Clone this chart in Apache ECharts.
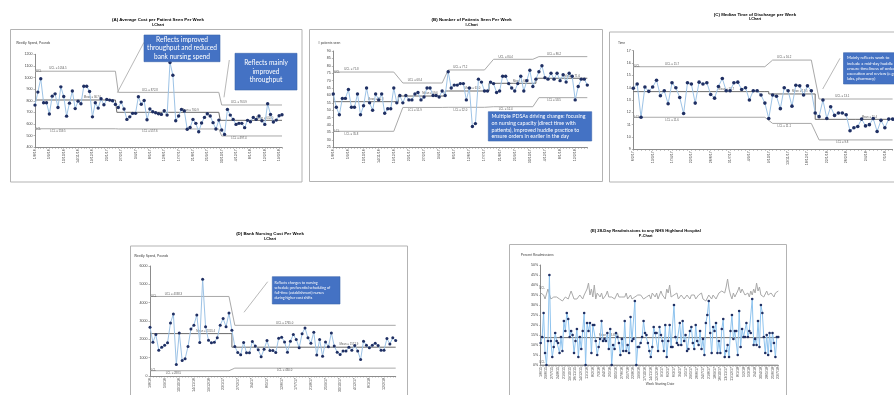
<!DOCTYPE html>
<html>
<head>
<meta charset="utf-8">
<script src="https://cdn.jsdelivr.net/npm/echarts/dist/echarts.min.js"></script>
<style>
  html, body { margin: 0; padding: 0; background: #fff; overflow: hidden; }
  #c { width: 894px; height: 395px; }
</style>
</head>
<body>
<div id="c"></div>
<script>
// ---------- (A) Average cost per patient seen per week (pounds) ----------
const costA = [763,875,990,783,783,686,840,860,743,920, 837,668,780,884,733,797,775,925,925,880,
  662,783,737,817,766,812,806,800,769,743, 789,729,640,662,692,692,835,770,803,637,
  729,706,697,689,683,715,677,1130,1020,629, 669,726,712,555,570,640,606,534,609,657,
  689,669,612,557,634,549,511,726,677,640, 597,606,606,569,632,620,657,640,669,629,
  597,775,683,617,634,672,680];
const phaseStartA = [0, 29, 65];
const phaseEndA   = [28, 64, 86];
const uclA  = [1054.5, 872.8, 763.9];
const meanA = [807.0, 700.9, 632.0];
const lclA  = [559.5, 557.6, 497.4];
const tickLabelsA = ['1/8/16','5/9/16','10/10/16','14/11/16','19/12/16','23/1/17','27/2/17','3/4/17','8/5/17',
  '12/6/17','17/7/17','21/8/17','25/9/17','30/10/17','4/12/17','8/1/18','12/2/18','19/3/18'];

// ---------- (B) Number of patients seen per week ----------
const patientsB = [61,52,47,58,58,64,52,52,61,47, 53,65,55,50,61,57,61,48,51,51,
  65,55,60,55,60,57,57,61,62,57, 59,65,65,60,60,59,63,60,76,65,
  67,67,68,68,57,65,39,41,71,69, 63,63,69,68,62,63,73,73,68,65,
  63,68,73,63,70,77,66,71,76,80, 72,71,75,71,75,70,74,69,75,73,
  57,66,71,71,67];
const phaseStartB = [0, 23, 38, 53, 68];
const phaseEndB   = [20, 36, 50, 66, 84];
const uclB  = [75.8, 68.4, 77.2, 84.4, 86.2];
const meanB = [55.8, 59.6, 63.0, 68.2, 71.6];
const lclB  = [35.8, 51.9, 52.0, 52.4, 58.5];
const tickLabelsB = ['1/8/16','5/9/16','10/10/16','14/11/16','19/12/16','23/1/17','27/2/17','3/4/17','8/5/17',
  '12/6/17','17/7/17','21/8/17','25/9/17','30/10/17','4/12/17','8/1/18','12/2/18'];

// ---------- (C) Median time of discharge per week (hour of day) ----------
const timeC = [13.95,14.3,11.6,14.05,13.7,14.05,14.6,13.35,13.75,12.7,
  14.4,14.0,13.2,11.9,14.4,14.3,12.75,14.45,14.3,14.4,
  13.45,13.15,14.1,14.75,13.75,13.75,14.4,14.45,13.85,14.0,
  13.0,13.75,13.75,13.4,12.75,11.5,13.4,13.3,12.3,14.0,
  13.75,12.5,14.2,14.15,13.4,14.15,13.75,11.95,11.65,13.0,
  11.5,12.45,11.75,11.95,11.95,11.8,10.5,10.75,10.85,11.45,
  10.9,11.0,11.5,10.45,11.35,10.75,11.45,11.45];
const phaseStartC = [0, 36, 48];
const phaseEndC   = [34, 46, 67];
const uclC  = [15.7, 16.24, 13.08];
const meanC = [13.68, 13.49, 11.43];
const lclC  = [11.6, 11.1, 9.76];
const tickLabelsC = ['6/2/17','13/3/17','17/4/17','22/5/17','26/6/17','31/7/17','4/9/17','9/10/17',
  '13/11/17','18/12/17','22/1/18','26/2/18','2/4/18','7/5/18'];

// ---------- (D) Bank nursing cost per week (pounds) ----------
const costD = [2660,1840,2260,1410,1570,1680,1810,2890,3380,630, 2350,850,940,1610,2570,2770,3330,1830,5280,2690,
  1950,1810,1840,2080,2770,3130,2690,3430,2490,1610, 1280,1160,1830,1270,1270,1880,1630,1430,1050,1460,
  1930,1390,1390,1280,2060,2110,1860,1300,1900,2260, 1990,1540,2310,2620,2080,1790,2390,1140,1990,1080,
  1860,1590,2350,1630,1300,1170,1360,1360,1570,1410, 1660,1370,900,1900,1680,1540,1680,1790,1660,1410,
  1410,2040,1750,2080,1930];
const phaseStartD = [0, 29];
const phaseEndD   = [27, 84];
const uclD  = [4338.3, 2765.0];
const meanD = [2313.4, 1571.9];
const lclD  = [288.5, 430.0];
const tickLabelsD = tickLabelsB;

// ---------- (E) 28-day readmissions, percent of discharges ----------
const readmitE = [11,14,26,6,0,12,45,12,4,9, 16,12,11,6,14,7,22,17,26,23,
  14,17,15,6,12,18,4,14,8,17, 26,0,21,17,21,6,20,20,12,5,
  9,13,22,12,13,12,16,8,18,0, 10,8,16,14,11,5,13,7,22,7,
  10,6,24,12,13,32,0,9,9,11, 14,22,16,15,11,7,4,9,19,16,
  16,7,19,15,12,7,20,4,12,20, 9,9,30,14,11,10,21,10,22,12,
  15,7,8,17,19,11,8,20,12,10, 17,8,13,5,21,25,32,16,6,19,
  17,21,6,12,6,18,23,4,7,10, 4,17,25,13,17,17,5,27,9,18,
  14,14,21,14,17,16,33,10,13,10, 22,9,30,26,14,6,15,5,16,7,
  16,11,4,14,14];
const uclE = [36,37,35,33, 32,38,37, 33,32,34,33,34,33,33,34,32,33, 34,35,33,34,37,36,33,34,
  33,34,35,34,33,35,36,38,41, 35,38,34,40,33,36,35,34,36,
  33,34,35,37,34,33,34,35,33,34,36,34, 33,34,35,34,36,33,34,35,33,34,34,33,
  35,36,35,34,33,32,34,33,35,33,36,35, 34,36,33,34,37,35,34,33,38,36,40,34,
  33,35,34,36,33,34,35,36,33,34,35,34, 33,35,34,35,33,34,35,34,36,33,34,32,
  33,35,34,33,35,36,33,34,36,35,37,38, 36,39,43,38,35,33,36,34,35,37,39,36,
  38,37,35,34,36,34,37,35,38,36,41,37, 39,35,36,34,35,37,35,34,36, 35,34,36,35,37];
const meanE = 13.69;
const lclE = 0;
const tickLabelsE = ['1/6/15','29/6/15','27/7/15','24/8/15','21/9/15','19/10/15','16/11/15','14/12/15',
  '11/1/16','8/2/16','7/3/16','4/4/16','2/5/16','30/5/16','27/6/16','25/7/16','22/8/16','19/9/16',
  '17/10/16','14/11/16','12/12/16','9/1/17','6/2/17','6/3/17','3/4/17','1/5/17','29/5/17','26/6/17',
  '24/7/17','21/8/17','18/9/17','16/10/17','13/11/17','11/12/17','8/1/18','5/2/18','5/3/18','2/4/18',
  '30/4/18','28/5/18','25/6/18','23/7/18'];

// ---------- helpers ----------
const AXIS = '#8c8c8c';
const TXT = '#404040';
const FONT = '"Liberation Sans", Arial, sans-serif';

// one category per week, with a date shown every `step` weeks
function weekCategories(n, labels, step) {
  const cats = new Array(n).fill('');
  labels.forEach((l, i) => { if (i * step < n) cats[i * step] = l; });
  return cats;
}
// control-limit polyline: flat across each phase, joined between phases
function phaseLine(starts, ends, vals) {
  const d = [];
  starts.forEach((s, i) => { d.push([s, vals[i]]); d.push([ends[i], vals[i]]); });
  return d;
}

const grids = [], xAxes = [], yAxes = [], series = [];

function addPanel(p) {
  const gi = grids.length;
  grids.push(Object.assign({ containLabel: false }, p.grid));
  xAxes.push({
    type: 'category', gridIndex: gi, boundaryGap: false,
    data: weekCategories(p.values.length, p.ticks, p.step),
    axisLine: { show: true, lineStyle: { color: AXIS, width: 1 } },
    axisTick: { show: true, interval: 0, length: 1.5, lineStyle: { color: AXIS, width: 0.6 } },
    axisLabel: { interval: 0, rotate: 90, fontSize: 3.6, color: TXT, margin: 2, fontFamily: FONT },
    splitLine: { show: false }
  });
  const suffix = p.ysuffix || '';
  yAxes.push({
    type: 'value', gridIndex: gi, min: p.min, max: p.max, interval: p.interval,
    axisLine: { show: true, lineStyle: { color: AXIS, width: 1 } },
    axisTick: { show: true, length: 1.5, lineStyle: { color: AXIS, width: 0.6 } },
    axisLabel: { fontSize: 3.6, color: TXT, margin: 2.5, fontFamily: FONT,
                 formatter: v => String(v) + suffix },
    splitLine: { show: false }
  });
  const base = { xAxisIndex: gi, yAxisIndex: gi, silent: true, animation: false };
  const limitStyle = { color: '#a9a9a9', width: 1 };
  const labelPts = [];
  const unit = p.unit || '';
  const dec = p.dec == null ? 1 : p.dec;

  if (p.uclPoints) {
    series.push(Object.assign({ type: 'line', symbol: 'none', lineStyle: limitStyle, z: 2,
      data: p.uclPoints }, base));
    series.push(Object.assign({ type: 'line', symbol: 'none', lineStyle: limitStyle, z: 2,
      data: [[0, p.lclFlat], [p.values.length - 1, p.lclFlat]] }, base));
    series.push(Object.assign({ type: 'line', symbol: 'none', lineStyle: { color: '#6b6b6b', width: 1 }, z: 3,
      data: [[0, p.meanFlat], [p.values.length - 1, p.meanFlat]] }, base));
    labelPts.push({ value: [p.meanLabelAt, p.meanFlat], name: 'Mean = ' + p.meanFlat.toFixed(dec) + unit, pos: 'top' });
    labelPts.push({ value: [1, p.uclPoints[1]], name: 'UCL', pos: 'top' });
    labelPts.push({ value: [1, p.lclFlat], name: 'LCL', pos: 'top' });
  } else {
    series.push(Object.assign({ type: 'line', symbol: 'none', lineStyle: limitStyle, z: 2,
      data: phaseLine(p.starts, p.ends, p.ucl) }, base));
    series.push(Object.assign({ type: 'line', symbol: 'none', lineStyle: limitStyle, z: 2,
      data: phaseLine(p.starts, p.ends, p.lcl) }, base));
    series.push(Object.assign({ type: 'line', symbol: 'none', step: 'middle',
      lineStyle: { color: '#6b6b6b', width: 1 }, z: 3,
      data: phaseLine(p.starts, p.ends, p.mean) }, base));
    p.starts.forEach((s, i) => {
      const len = p.ends[i] - s;
      const a = Math.round(s + len * 0.3), b = Math.round(s + len * 0.7);
      labelPts.push({ value: [a, p.ucl[i]], name: 'UCL = ' + p.ucl[i].toFixed(dec), pos: 'top' });
      labelPts.push({ value: [b, p.mean[i]], name: 'Mean = ' + p.mean[i].toFixed(dec), pos: 'top' });
      labelPts.push({ value: [a, p.lcl[i]], name: 'LCL = ' + p.lcl[i].toFixed(dec), pos: 'bottom' });
    });
    labelPts.push({ value: [0, p.ucl[0]], name: 'UCL', pos: 'right' });
    labelPts.push({ value: [0, p.lcl[0]], name: 'LCL', pos: 'right' });
  }

  series.push(Object.assign({
    type: 'scatter', symbolSize: 0, z: 4,
    data: labelPts.map(d => ({ value: d.value, name: d.name,
      label: { show: true, position: d.pos, distance: 1, formatter: '{b}', fontSize: 2.8,
               color: '#303030', fontFamily: FONT } }))
  }, base));

  series.push(Object.assign({
    type: 'line', data: p.values, symbol: 'circle', symbolSize: p.dot, showAllSymbol: true, z: 5,
    lineStyle: { color: p.lineColor || '#9dc3e6', width: 1 },
    itemStyle: { color: '#1f2f63' }
  }, base));
}

addPanel({ grid: { left: 35, top: 54.3, width: 247, height: 93 }, values: costA,
  ticks: tickLabelsA, step: 5, min: 400, max: 1200, interval: 100,
  starts: phaseStartA, ends: phaseEndA, ucl: uclA, mean: meanA, lcl: lclA, dot: 3.4 });
addPanel({ grid: { left: 333.3, top: 51, width: 254, height: 96.3 }, values: patientsB,
  ticks: tickLabelsB, step: 5, min: 25, max: 90, interval: 5,
  starts: phaseStartB, ends: phaseEndB, ucl: uclB, mean: meanB, lcl: lclB, dot: 3.4 });
addPanel({ grid: { left: 633.3, top: 50.7, width: 259.3, height: 98.6 }, values: timeC,
  ticks: tickLabelsC, step: 5, min: 9, max: 17, interval: 1,
  starts: phaseStartC, ends: phaseEndC, ucl: uclC, mean: meanC, lcl: lclC, dot: 3.6 });
addPanel({ grid: { left: 150, top: 266, width: 245.7, height: 110.7 }, values: costD,
  ticks: tickLabelsD, step: 5, min: 0, max: 6000, interval: 1000,
  starts: phaseStartD, ends: phaseEndD, ucl: uclD, mean: meanD, lcl: lclD, dot: 3 });
addPanel({ grid: { left: 540.7, top: 265, width: 237.6, height: 100 }, values: readmitE,
  ticks: tickLabelsE, step: 4, min: 0, max: 50, interval: 5, ysuffix: '%',
  uclPoints: uclE, meanFlat: meanE, lclFlat: lclE, meanLabelAt: 47, unit: '%', dec: 2,
  dot: 2.6, lineColor: '#8ec3ee' });

// ---------- page furniture: frames, titles, axis names, notes ----------
function frame(x, y, w, h) {
  return { type: 'rect', shape: { x: x + 0.5, y: y + 0.5, width: w, height: h }, silent: true,
           style: { fill: 'none', stroke: '#b3b3b3', lineWidth: 1 } };
}
function text(x, y, s, size, opts) {
  opts = opts || {};
  return { type: 'text', x: x, y: y, silent: true, z: 20,
    style: { text: s, fill: opts.fill || '#000', align: opts.align || 'center', verticalAlign: 'middle',
      font: (opts.bold ? 'bold ' : '') + size + 'px ' + (opts.family || FONT),
      lineHeight: opts.lh || size * 1.2 } };
}
function note(x, y, w, h, s, size, lh, align, tx) {
  return [
    { type: 'rect', shape: { x: x, y: y, width: w, height: h }, silent: true, z: 18,
      style: { fill: '#4472c4', stroke: '#3b64ad', lineWidth: 0.6 } },
    text(align === 'left' ? tx : x + w / 2, y + h / 2, s, size,
      { fill: '#fff', align: align || 'center', lh: lh, family: 'Lato, "Open Sans", sans-serif' })
  ];
}
function connector(x1, y1, x2, y2) {
  return { type: 'line', shape: { x1: x1, y1: y1, x2: x2, y2: y2 }, silent: true, z: 17,
           style: { stroke: '#a6a6a6', lineWidth: 0.8 } };
}

const graphics = [
  frame(10, 29, 291.5, 152.5),
  frame(309, 29, 293, 152),
  frame(609, 31.5, 300, 150),
  frame(130, 245.5, 277, 170),
  frame(509, 244, 277, 170),

  text(158, 20, '(A) Average Cost per Patient Seen Per Week', 4.4, { bold: true }),
  text(158, 25.2, 'I-Chart', 3.8, { bold: true }),
  text(471.7, 20, '(B) Number of Patients Seen Per Week', 4.4, { bold: true }),
  text(471.7, 25, 'I-Chart', 3.8, { bold: true }),
  text(755, 14.3, '(C) Median Time of Discharge per Week', 4.4, { bold: true }),
  text(755, 19.3, 'I-Chart', 3.8, { bold: true }),
  text(270, 234, '(D) Bank Nursing Cost Per Week', 4.4, { bold: true }),
  text(270, 238.5, 'I-Chart', 3.8, { bold: true }),
  text(645.7, 231, '(E) 28-Day Readmissions to any NHS Highland Hospital', 4.2, { bold: true }),
  text(645.7, 235.7, 'P-Chart', 3.8, { bold: true }),

  text(16, 43.3, 'Weekly Spend, Pounds', 3.3, { align: 'left', fill: TXT }),
  text(318, 43.3, '# patients seen', 3.3, { align: 'left', fill: TXT }),
  text(618, 43.3, 'Time', 3.3, { align: 'left', fill: TXT }),
  text(134, 255.7, 'Weekly Spend, Pounds', 3.3, { align: 'left', fill: TXT }),
  text(520.7, 255, 'Percent Readmissions', 3.3, { align: 'left', fill: TXT }),
  text(660, 384, 'Week Starting Date', 3.3, { fill: TXT }),

  connector(144, 42.3, 117.3, 92.7),
  connector(229.3, 60, 224, 97.3),
  connector(840, 58.3, 822.7, 89),
  connector(267.7, 281.7, 244, 312.3)
].concat(
  note(144, 35, 76, 26.7, 'Reflects improved\nthroughput and reduced\nbank nursing spend', 6.6, 8.2),
  note(235, 53.3, 62, 36.7, 'Reflects mainly\nimproved\nthroughput', 6.6, 8.6),
  note(488.3, 111.7, 103.4, 29.3,
    'Multiple PDSAs driving change: focusing\non nursing capacity (direct time with\npatients), improved huddle practice to\nensure orders in earlier in the day',
    5.3, 6.9, 'left', 491.5),
  note(843.5, 52.7, 70, 31.3,
    'Mainly reflects work to\ninclude a mid-day huddle to\nensure timeliness of orders\nexecution and review (e.g.\nlabs, pharmacy)',
    4.2, 5.2, 'left', 847),
  note(272.3, 276.7, 67.7, 27.3,
    'Reflects changes to nursing\nschedule; preferential scheduling of\nfull-time (establishment) nurses\nduring higher cost shifts',
    3.6, 5, 'left', 274.5)
);

const chart = echarts.init(document.getElementById('c'), null, { renderer: 'canvas' });
chart.setOption({
  animation: false,
  backgroundColor: '#fff',
  grid: grids, xAxis: xAxes, yAxis: yAxes, series: series,
  graphic: { elements: graphics }
});
</script>
</body>
</html>
